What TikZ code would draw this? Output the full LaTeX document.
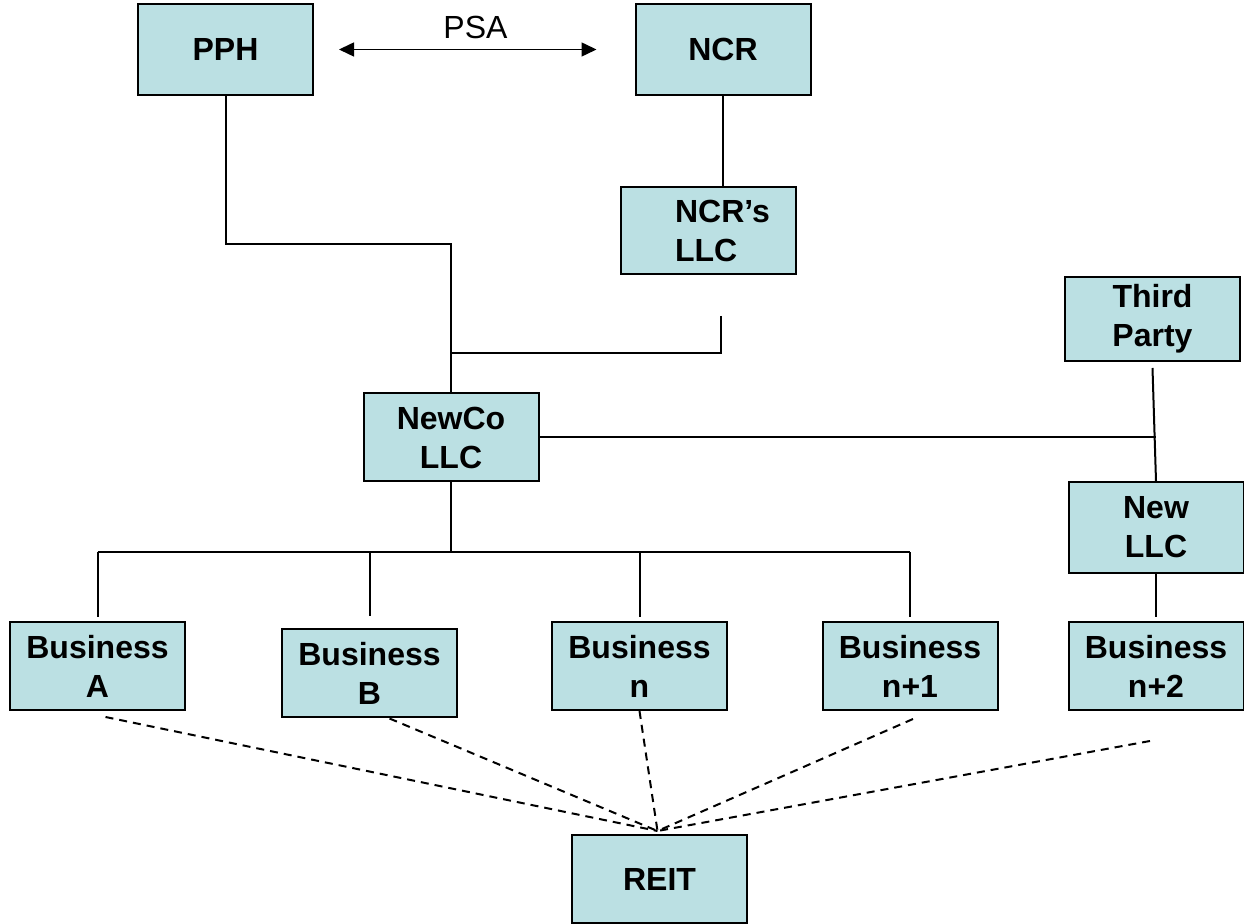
\documentclass[tikz,border=0pt]{standalone}
\usepackage{fontspec}
\setmainfont{Liberation Sans}
\usetikzlibrary{arrows.meta}
\definecolor{boxfill}{HTML}{BBE0E3}

\begin{document}
\begin{tikzpicture}[x=0.5pt,y=-0.5pt,
every node/.style={align=center,font=\fontsize{16}{19.5}\selectfont\bfseries},
entity/.style={draw,fill=boxfill,line width=1pt,minimum width=87.5pt,minimum height=44pt,inner sep=0pt},
link/.style={line width=1pt},
lease/.style={line width=1pt,dash pattern=on 4pt off 3pt}
]
\useasboundingbox (0,0) rectangle (1244,924);

% top level
\node[entity,minimum height=45.5pt] (pph) at (225.5,49.5) {PPH};
\node[entity,minimum height=45.5pt] (ncr) at (723,49.5) {NCR};
\node[entity,minimum height=43.5pt,align=left] (ncrllc) at (708.5,230.5) {\hspace*{14pt}NCR’s\\\hspace*{14pt}LLC};
\node[entity,minimum height=42pt] (third) at (1152.5,319) {Third\\Party};

% middle level
\node[entity] (newco) at (451,437.5) {NewCo\\LLC};
\node[entity,minimum height=45.5pt] (newllc) at (1156,527.5) {New\\LLC};

% businesses
\node[entity] (bizA) at (97.5,666) {Business\\A};
\node[entity] (bizB) at (369.5,673.5) {Business\\B};
\node[entity] (bizn) at (639.5,666) {Business\\n};
\node[entity] (biznI) at (910,666) {Business\\n+1};
\node[entity] (biznII) at (1156,666) {Business\\n+2};
\node[entity] (reit) at (659.5,879) {REIT};

% PSA
\draw[line width=0.75pt,{Triangle[length=7.5pt,width=7pt]}-{Triangle[length=7.5pt,width=7pt]}] ([xshift=12.5pt]pph.east) -- node[pos=0.53,yshift=11pt,font=\fontsize{16}{19.5}\selectfont] {PSA} ([xshift=-19pt]ncr.west);

% ownership lines
\draw[link] (pph.south) -- ++(0,148) -| (newco.north);
\draw[link] (ncr.south) -- (ncr.south |- ncrllc.north);
\coordinate (ncrfoot) at ([xshift=6pt,yshift=-20.5pt]ncrllc.south);
\draw[link] (ncrfoot) |- (newco.north |- 0,353);
\draw[link] (newco.east) -- (newco.east -| newllc.north);
\draw[link] ([yshift=-3pt]third.south) -- (newllc.north);
\draw[link] (newllc.south) -- ([yshift=2pt]biznII.north);

% bus to businesses
\draw[link] (newco.south) -- ++(0,70) coordinate (bus);
\draw[link] (bizA.north |- bus) -- (biznI.north |- bus);
\foreach \b in {bizA,bizn,biznI}
  \draw[link] (\b.north |- bus) -- ([yshift=2pt]\b.north);
\draw[link] (bizB.north |- bus) -- ([yshift=6pt]bizB.north);

% leases to REIT
\coordinate (hub) at ([xshift=-1pt,yshift=1.5pt]reit.north);
\draw[lease] ([xshift=4pt,yshift=-3pt]bizA.south) -- (hub);
\draw[lease] ([xshift=10pt]bizB.south) -- (hub);
\draw[lease] (bizn.south) -- (hub);
\draw[lease] ([xshift=1.5pt,yshift=-4pt]biznI.south) -- (hub);
\draw[lease] ([xshift=-3pt,yshift=-15pt]biznII.south) -- (hub); %<- end leases
\end{tikzpicture}
\end{document}
